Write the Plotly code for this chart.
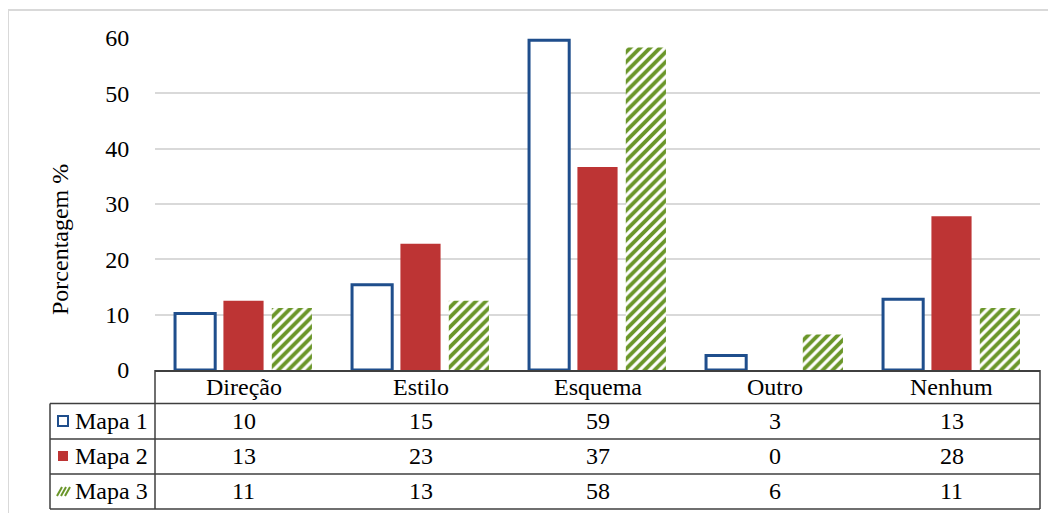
import plotly.graph_objects as go

CATEGORIES = ["Direção", "Estilo", "Esquema", "Outro", "Nenhum"]
SERIES_NAMES = ["Mapa 1", "Mapa 2", "Mapa 3"]

# Bar heights
MAPA_1 = [10.2, 15.4, 59.6, 2.6, 12.8]
MAPA_2 = [12.5, 22.8, 36.7, 0.0, 27.8]
MAPA_3 = [11.2, 12.5, 58.3, 6.4, 11.2]

# Values printed in the data table under the chart
TABLE_MAPA_1 = [10, 15, 59, 3, 13]
TABLE_MAPA_2 = [13, 23, 37, 0, 28]
TABLE_MAPA_3 = [11, 13, 58, 6, 11]

Y_TICKS = [0, 10, 20, 30, 40, 50, 60]

# The page body adds an 8px margin, so layout is given in window pixels
# and shifted back by this amount.
BODY = 8
WIDTH, HEIGHT = 1056 - BODY, 513 - BODY
PLOT_LEFT, PLOT_RIGHT = 155, 1040
PLOT_TOP, PLOT_BOTTOM = 38, 510
AXIS_Y = 370

FONT = "Liberation Serif"
FONT_SIZE = 24
BLUE = "#1f4e8c"
RED = "#bd3434"
GREEN = "#6a9629"
TABLE_LINE = "#3f3f3f"


def px_x(px: float) -> float:
    return (px - PLOT_LEFT) / (PLOT_RIGHT - PLOT_LEFT)


def px_y(px: float) -> float:
    return (PLOT_BOTTOM - px) / (PLOT_BOTTOM - PLOT_TOP)


def line(x0, y0, x1, y1, color=TABLE_LINE, width=1.5) -> dict:
    return dict(
        type="line", xref="paper", yref="paper",
        x0=px_x(x0), y0=px_y(y0), x1=px_x(x1), y1=px_y(y1),
        line=dict(color=color, width=width),
    )


def table_shapes() -> list[dict]:
    shapes = []
    row_lines = [403.5, 439, 474, 509]
    # Horizontal rules (header top is the x axis line)
    for y in row_lines:
        shapes.append(line(50, y, PLOT_RIGHT, y))
    # Verticals: left column and right edge
    shapes.append(line(50, 403.5, 50, 509))
    shapes.append(line(PLOT_LEFT, AXIS_Y, PLOT_LEFT, 509))
    shapes.append(line(PLOT_RIGHT, AXIS_Y, PLOT_RIGHT, 509))

    # Legend keys
    shapes.append(dict(
        type="rect", xref="paper", yref="paper",
        x0=px_x(58), x1=px_x(68), y0=px_y(426), y1=px_y(416),
        line=dict(color=BLUE, width=2), fillcolor="white",
    ))
    shapes.append(dict(
        type="rect", xref="paper", yref="paper",
        x0=px_x(58), x1=px_x(68), y0=px_y(461), y1=px_y(451),
        line=dict(width=0), fillcolor=RED,
    ))
    for k in range(3):
        x0 = 57 + k * 4
        shapes.append(line(x0, 496, x0 + 5, 487, color=GREEN, width=2))

    # Outer chart border
    shapes.append(dict(
        type="rect", xref="paper", yref="paper",
        x0=px_x(8), x1=px_x(1070), y0=px_y(530), y1=px_y(10),
        line=dict(color="#d9d9d9", width=2), fillcolor="rgba(0,0,0,0)",
        layer="below",
    ))
    return shapes


def table_annotations() -> list[dict]:
    annotations = []
    font = dict(family=FONT, size=FONT_SIZE, color="black")
    for cat in CATEGORIES:
        annotations.append(dict(
            x=cat, xref="x", y=px_y(387), yref="paper",
            text=cat, showarrow=False, font=font, yanchor="middle",
        ))
    rows = [(421, TABLE_MAPA_1), (456, TABLE_MAPA_2), (491, TABLE_MAPA_3)]
    for (y, values), name in zip(rows, SERIES_NAMES):
        annotations.append(dict(
            x=px_x(73), xref="paper", y=px_y(y), yref="paper",
            text=name, showarrow=False, font=font,
            xanchor="left", yanchor="middle",
        ))
        for cat, v in zip(CATEGORIES, values):
            annotations.append(dict(
                x=cat, xref="x", y=px_y(y), yref="paper",
                text=str(v), showarrow=False, font=font, yanchor="middle",
            ))
    annotations.append(dict(
        x=px_x(60), xref="paper", y=px_y(240), yref="paper",
        text="Porcentagem %", textangle=-90, showarrow=False, font=font,
        xanchor="center", yanchor="middle",
    ))
    return annotations


def plot() -> go.Figure:
    fig = go.Figure()
    fig.add_trace(go.Bar(
        x=CATEGORIES, y=MAPA_1, name=SERIES_NAMES[0],
        marker=dict(color="white", line=dict(color=BLUE, width=3)),
    ))
    fig.add_trace(go.Bar(
        x=CATEGORIES, y=MAPA_2, name=SERIES_NAMES[1],
        marker=dict(color=RED, line=dict(width=0)),
    ))
    fig.add_trace(go.Bar(
        x=CATEGORIES, y=MAPA_3, name=SERIES_NAMES[2],
        marker=dict(
            color="white", line=dict(width=0),
            pattern=dict(shape="/", fgcolor=GREEN, bgcolor="white",
                         fgopacity=1, size=7, solidity=0.55),
        ),
    ))

    fig.update_layout(
        width=WIDTH, height=HEIGHT,
        margin=dict(l=PLOT_LEFT - BODY, r=1056 - PLOT_RIGHT,
                    t=PLOT_TOP - BODY, b=513 - PLOT_BOTTOM, pad=0,
                    autoexpand=False),
        paper_bgcolor="white", plot_bgcolor="white",
        barmode="group", bargap=0.18, bargroupgap=0.17,
        showlegend=False,
        font=dict(family=FONT, size=FONT_SIZE, color="black"),
        xaxis=dict(
            showticklabels=False, showgrid=False, automargin=False,
            showline=True, linecolor=TABLE_LINE, linewidth=1.5,
        ),
        yaxis=dict(
            domain=[px_y(AXIS_Y), 1], range=[0, 60], automargin=False,
            tickvals=Y_TICKS, showgrid=True, gridcolor="#d9d9d9",
            gridwidth=1.5, zeroline=False, showline=False,
            ticks="outside", ticklen=20, tickcolor="rgba(0,0,0,0)",
            tickfont=dict(family=FONT, size=FONT_SIZE),
        ),
        shapes=table_shapes(),
        annotations=table_annotations(),
    )
    return fig


if __name__ == "__main__":
    fig = plot()
    fig.write_html("out.html")
